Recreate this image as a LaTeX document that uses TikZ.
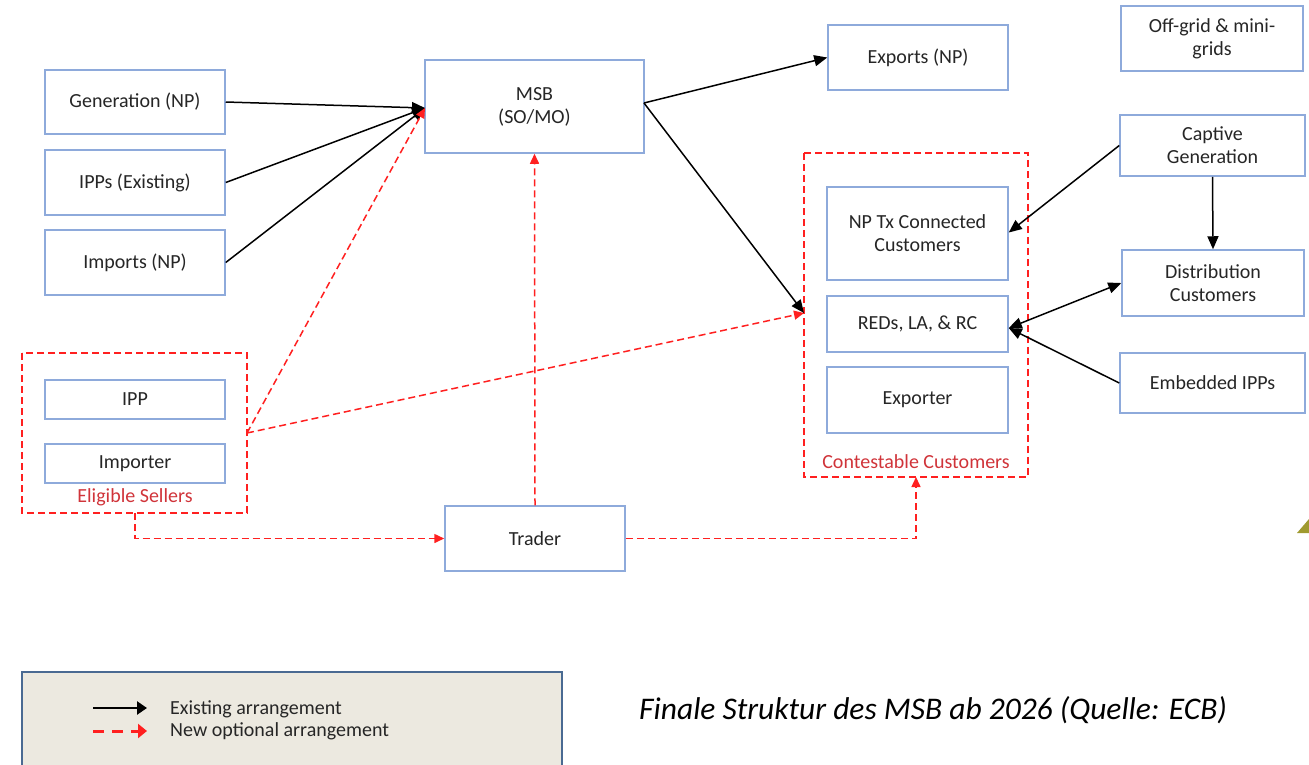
\documentclass[tikz,border=0pt]{standalone}
\usepackage{fontspec}
\setmainfont{Carlito}
\usetikzlibrary{arrows.meta}
\definecolor{boxblue}{HTML}{8EAADB}
\definecolor{txt}{HTML}{262626}
\definecolor{lbred}{HTML}{D0343A}
\definecolor{dred}{HTML}{FF2020}
\definecolor{legfill}{HTML}{ECE9E0}
\definecolor{legborder}{HTML}{4A6A92}
\definecolor{olive}{HTML}{A09A30}
\tikzset{
  ent/.style={draw=boxblue, line width=1.5pt, fill=white, text=txt, align=center, font=\fontsize{20}{23}\selectfont, inner sep=0pt},
  grp/.style={draw=dred, line width=1.5pt, dash pattern=on 7pt off 4pt},
  blk/.style={draw=black, line width=1.5pt, -{Triangle[length=13pt,width=11pt]}},
  blkd/.style={draw=black, line width=1.5pt, {Triangle[length=13pt,width=11pt]}-{Triangle[length=13pt,width=11pt]}},
  rdd/.style={draw=dred, line width=1.5pt, dash pattern=on 7pt off 4pt, -{Triangle[length=10pt,width=9pt]}},
  grplabel/.style={text=lbred, font=\fontsize{20}{23}\selectfont, inner sep=0pt},
  legtext/.style={anchor=west, text=txt, font=\fontsize{20}{23}\selectfont, inner sep=0pt},
}
\begin{document}
\begin{tikzpicture}[x=1pt,y=-1pt]
\useasboundingbox (0,0) rectangle (1309,764);
% group boxes
\draw[grp] (22,353) rectangle (247,513);
\draw[grp] (804,153) rectangle (1028,477);
\node[grplabel] (esl) at (135,497) {Eligible Sellers};
\node[grplabel] (ccl) at (916,462) {Contestable Customers};
\coordinate (esR) at (247,433);
\coordinate (esB) at (135,513);
\coordinate (ccL) at (804,313);
\coordinate (ccB) at (916,477);
% nodes
\node[ent, minimum width=180pt, minimum height=64pt] (gen) at (135,102) {Generation (NP)};
\node[ent, minimum width=180pt, minimum height=65pt] (ipps) at (135,182.5) {IPPs (Existing)};
\node[ent, minimum width=180pt, minimum height=65pt] (imp) at (135,262.5) {Imports (NP)};
\node[ent, minimum width=219pt, minimum height=93pt] (msb) at (534.5,106.5) {MSB\\(SO/MO)};
\node[ent, minimum width=180pt, minimum height=65pt] (exp) at (918,57.5) {Exports (NP)};
\node[ent, minimum width=182pt, minimum height=65pt] (off) at (1212,38.5) {Off-grid \& mini-\\grids};
\node[ent, minimum width=185pt, minimum height=61pt] (cap) at (1212.5,145.5) {Captive\\Generation};
\node[ent, minimum width=181pt, minimum height=93pt] (nptx) at (917.5,233.5) {NP Tx Connected\\Customers};
\node[ent, minimum width=181pt, minimum height=56pt] (red) at (917.5,324) {REDs, LA, \& RC};
\node[ent, minimum width=181pt, minimum height=66pt] (expo) at (917.5,400) {Exporter};
\node[ent, minimum width=182pt, minimum height=66pt] (dist) at (1213,283) {Distribution\\Customers};
\node[ent, minimum width=185pt, minimum height=60pt] (emb) at (1212.5,383) {Embedded IPPs};
\node[ent, minimum width=180pt, minimum height=39pt] (ipp) at (135,399.5) {IPP};
\node[ent, minimum width=180pt, minimum height=39pt] (imper) at (135,463.5) {Importer};
\node[ent, minimum width=180pt, minimum height=65pt] (trd) at (535,538.5) {Trader};
% connectors
\coordinate (msbin) at (425,108);
\coordinate (msbout) at (644,103);
\draw[blk] (gen.east) -- (msbin);
\draw[blk] (ipps.east) -- (msbin);
\draw[blk] (imp.east) -- (msbin);
\draw[rdd] (esR) -- (msbin);
\draw[rdd] (esR) -- (ccL);
\draw[blk] (msbout) -- (exp.west);
\draw[blk] (msbout) -- (ccL);
\draw[rdd] (trd.north) -- (msb.south);
\draw[rdd] (esB) |- (trd.west);
\draw[rdd] (trd.east) -| (ccB);
\draw[blk] (cap.west) -- ([yshift=1pt]nptx.east);
\draw[blk] (cap.south) -- (dist.south |- dist.north);
\draw[blkd] ([yshift=-4pt]red.east) -- (dist.west);
\draw[blk] (emb.west) -- ([yshift=-4pt]red.east);
% legend
\fill[legfill] (22,672) rectangle (562,766);
\draw[legborder, line width=1.5pt] (22,766) -- (22,672) -- (562,672) -- (562,766);
\coordinate (l1a) at (93,708);
\coordinate (l1b) at (147,708);
\coordinate (l2a) at (93,731);
\coordinate (l2b) at (147,731);
\draw[draw=black, line width=2.5pt, -{Triangle[length=10pt,width=13pt]}] (l1a) -- (l1b);
\draw[draw=dred, line width=3pt, dash pattern=on 11pt off 8pt, -{Triangle[length=9pt,width=14pt]}] (l2a) -- (l2b);
\node[legtext] (lt1) at (170,709) {Existing arrangement};
\node[legtext] (lt2) at (170,731) {New optional arrangement};
% caption
\node[anchor=west, text=black, font=\itshape\fontsize{31.5}{36}\selectfont, inner sep=0pt] (cap2) at (639,710) {Finale Struktur des MSB ab 2026 (Quelle: ECB)};
% corner decoration
\fill[olive] (1309,519) -- (1309,533) -- (1297,533) -- cycle;
\end{tikzpicture}
\end{document}
